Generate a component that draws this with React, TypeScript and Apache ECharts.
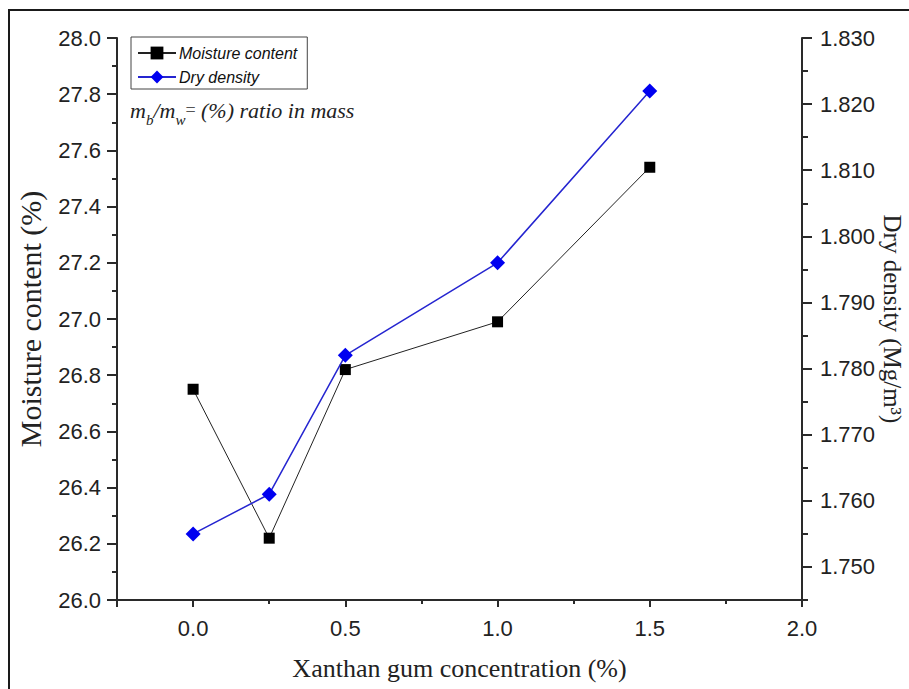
import React, { useEffect, useRef } from "react";
import * as echarts from "echarts";

const xValues = [0, 0.25, 0.5, 1.0, 1.5];
const moistureContent = [26.75, 26.22, 26.82, 26.99, 27.54];
const dryDensity = [1.755, 1.761, 1.782, 1.796, 1.822];
const xMajorTicks = [0, 0.5, 1.0, 1.5, 2.0];
const rightTicks = [1.75, 1.76, 1.77, 1.78, 1.79, 1.8, 1.81, 1.82, 1.83];

const SANS = "Liberation Sans, Arial, sans-serif";
const SERIF = "Liberation Serif, Times New Roman, serif";

export default function App() {
  const ref = useRef<HTMLDivElement>(null);
  useEffect(() => {
    if (!ref.current) return;
    const chart = echarts.init(ref.current, undefined, { renderer: "svg" });
    const axisLine = { show: true, onZero: false, lineStyle: { color: "#2a2a2a", width: 2 } };
    const labelStyle = { color: "#222", fontSize: 22, fontFamily: SANS };
    chart.setOption({
      animation: false,
      backgroundColor: "#fff",
      grid: { left: 117, right: 107, top: 38, bottom: 89, containLabel: false, outerBoundsMode: "none" },
      legend: {
        left: 131,
        top: 37,
        orient: "vertical",
        itemWidth: 38,
        itemHeight: 16,
        itemGap: 8,
        padding: [8, 10, 4, 6],
        borderColor: "#444",
        borderWidth: 1,
        borderRadius: 0,
        textStyle: { color: "#111", fontSize: 16, fontStyle: "italic", fontFamily: SANS, padding: [0, 0, 0, -2] },
        data: ["Moisture content", "Dry density"],
      },
      xAxis: [
        {
          type: "value",
          min: -0.25,
          max: 2.0,
          position: "bottom",
          name: "Xanthan gum concentration (%)",
          nameLocation: "middle",
          nameGap: 55,
          nameTextStyle: { color: "#222", fontSize: 26, fontFamily: SERIF },
          axisLine,
          axisTick: { show: true, inside: false, length: 7, customValues: [-0.25, ...xMajorTicks], lineStyle: { color: "#2a2a2a", width: 2 } },
          axisLabel: { ...labelStyle, margin: 17, customValues: xMajorTicks, formatter: (v: number) => v.toFixed(1) },
          splitLine: { show: false },
        },
        {
          type: "value",
          min: -0.25,
          max: 2.0,
          interval: 0.25,
          position: "bottom",
          axisLine: { show: false, onZero: false },
          axisTick: { show: true, length: 4, lineStyle: { color: "#2a2a2a", width: 2 } },
          axisLabel: { show: false },
          splitLine: { show: false },
        },
      ],
      yAxis: [
        {
          type: "value",
          min: 26.0,
          max: 28.0,
          interval: 0.2,
          position: "left",
          name: "Moisture content (%)",
          nameLocation: "middle",
          nameGap: 72,
          nameTextStyle: { color: "#222", fontSize: 30, fontFamily: SERIF },
          axisLine,
          axisTick: { show: true, length: 10, lineStyle: { color: "#2a2a2a", width: 2 } },
          minorTick: { show: true, splitNumber: 2, length: 5, lineStyle: { color: "#2a2a2a", width: 2 } },
          axisLabel: { ...labelStyle, margin: 16, formatter: (v: number) => v.toFixed(1) },
          splitLine: { show: false },
        },
        {
          type: "value",
          min: 1.745,
          max: 1.83,
          position: "right",
          name: "Dry density (Mg/m³)",
          nameLocation: "middle",
          nameRotate: -90,
          nameGap: 78,
          nameMoveOverlap: false,
          nameTextStyle: { color: "#222", fontSize: 25, fontFamily: SERIF },
          axisLine,
          axisTick: { show: true, length: 10, customValues: rightTicks, lineStyle: { color: "#2a2a2a", width: 2 } },
          axisLabel: { ...labelStyle, margin: 18, customValues: rightTicks, formatter: (v: number) => v.toFixed(3) },
          splitLine: { show: false },
        },
        {
          type: "value",
          min: 1.745,
          max: 1.83,
          interval: 0.005,
          position: "right",
          axisLine: { show: false, onZero: false },
          axisTick: { show: true, length: 6, lineStyle: { color: "#2a2a2a", width: 2 } },
          axisLabel: { show: false },
          splitLine: { show: false },
        },
      ],
      series: [
        {
          name: "Moisture content",
          type: "line",
          xAxisIndex: 0,
          yAxisIndex: 0,
          data: xValues.map((x, i) => [x, moistureContent[i]]),
          symbol: "rect",
          symbolSize: 11,
          itemStyle: { color: "#000" },
          lineStyle: { color: "#222", width: 1 },
          z: 2,
        },
        {
          name: "Dry density",
          type: "line",
          xAxisIndex: 0,
          yAxisIndex: 1,
          data: xValues.map((x, i) => [x, dryDensity[i]]),
          symbol: "diamond",
          symbolSize: 15,
          itemStyle: { color: "#0000f0" },
          lineStyle: { color: "#2525d0", width: 1.5 },
          z: 3,
        },
      ],
      graphic: [
        {
          type: "rect",
          shape: { x: 9, y: 10, width: 1000, height: 1000 },
          style: { fill: "none", stroke: "#1a1a1a", lineWidth: 2 },
          silent: true,
          z: 0,
        },
        {
          type: "text",
          x: 130,
          y: 99,
          style: {
            text: "{i|m}{s|b}{i|/m}{s|w}{e|=}{i| (%) ratio in mass}",
            fill: "#222",
            rich: {
              i: { fontSize: 22, fontStyle: "italic", fontFamily: SERIF, fill: "#222", verticalAlign: "top", lineHeight: 24 },
              s: { fontSize: 15, fontStyle: "italic", fontFamily: SERIF, fill: "#222", verticalAlign: "top", lineHeight: 16, padding: [13, 0, 0, 0] },
              e: { fontSize: 18, fontFamily: SERIF, fill: "#555", verticalAlign: "top", lineHeight: 20, padding: [2, 0, 0, 0] },
            },
          },
        },
      ],
    });
    return () => chart.dispose();
  }, []);
  return <div ref={ref} style={{ position: "fixed", left: 0, top: 0, width: 909, height: 689 }} />;
}
